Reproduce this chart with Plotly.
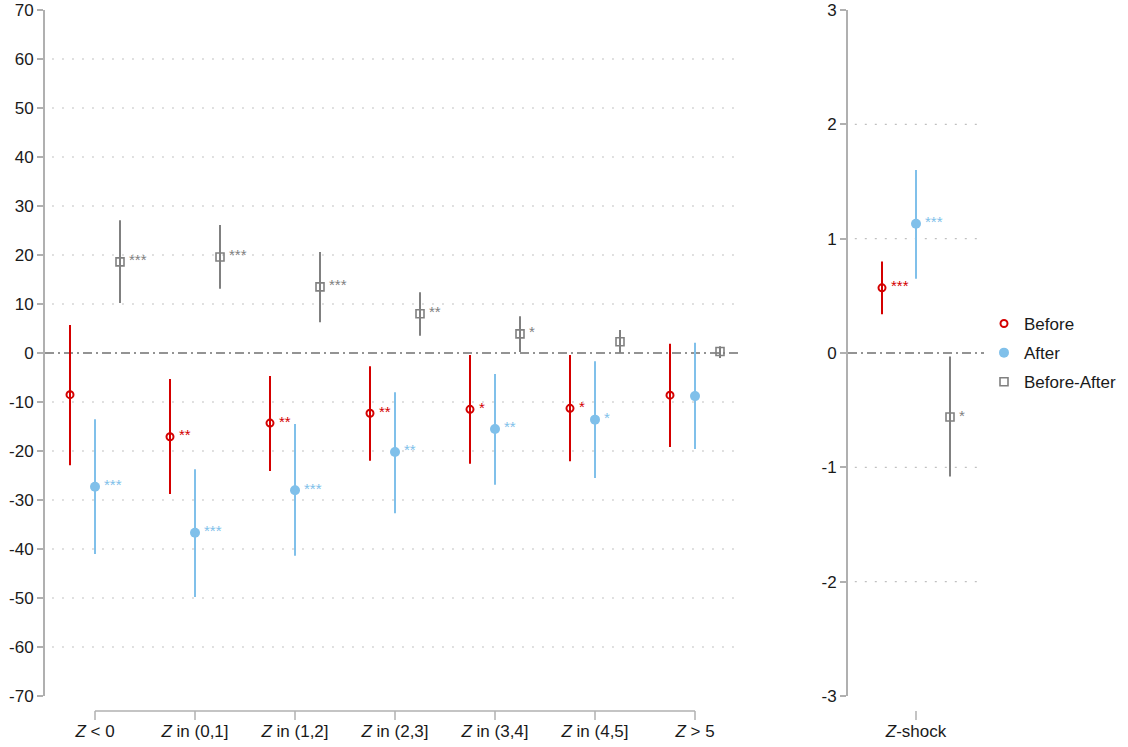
import plotly.graph_objects as go

# ---------------- data ----------------
categories = ["<i>Z</i> < 0", "<i>Z</i> in (0,1]", "<i>Z</i> in (1,2]", "<i>Z</i> in (2,3]",
              "<i>Z</i> in (3,4]", "<i>Z</i> in (4,5]", "<i>Z</i> > 5"]
before_est = [-8.5, -17.1, -14.3, -12.3, -11.5, -11.3, -8.6]
before_lo = [-22.9, -28.8, -24.1, -22.0, -22.6, -22.1, -19.2]
before_hi = [5.7, -5.3, -4.7, -2.7, -0.4, -0.4, 1.9]
before_stars = ["", "**", "**", "**", "*", "*", ""]

after_est = [-27.3, -36.7, -28.0, -20.2, -15.5, -13.6, -8.8]
after_lo = [-41.0, -49.8, -41.4, -32.7, -26.9, -25.5, -19.6]
after_hi = [-13.5, -23.7, -14.5, -8.0, -4.3, -1.7, 2.1]
after_stars = ["***", "***", "***", "**", "**", "*", ""]

diff_est = [18.6, 19.6, 13.5, 8.0, 3.9, 2.3, 0.3]
diff_lo = [10.2, 13.1, 6.3, 3.5, 0.2, 0.0, -1.0]
diff_hi = [27.1, 26.1, 20.6, 12.4, 7.5, 4.7, 1.4]
diff_stars = ["***", "***", "***", "**", "*", "", ""]

shock_label = ["<i>Z</i>-shock"]
shock_est = [0.57, 1.13, -0.56]
shock_lo = [0.34, 0.65, -1.08]
shock_hi = [0.80, 1.60, -0.03]
shock_stars = ["***", "***", "*"]

series_names = ["Before", "After", "Before-After"]
left_ticks = list(range(-70, 71, 10))
left_ticktext = [str(v) for v in left_ticks]
right_ticks = [-3, -2, -1, 0, 1, 2, 3]
right_ticktext = [str(v) for v in right_ticks]

# ---------------- style ----------------
RED = "#d40000"
BLUE = "#80c0ea"
GRAY = "#808080"
colors = [RED, BLUE, GRAY]
symbols = ["circle-open", "circle", "square-open"]
sizes = [7, 10, 8]
mlw = [2, 0, 1.6]
offsets = [-0.25, 0.0, 0.25]
FONT = "Liberation Sans, Arial, Helvetica, sans-serif"
STAR_SIZE = 15

W, H = 1128, 747
def px_x(p): return p / W
def px_y(p): return 1 - p / H

fig = go.Figure()

left_sets = [(before_est, before_lo, before_hi, before_stars),
             (after_est, after_lo, after_hi, after_stars),
             (diff_est, diff_lo, diff_hi, diff_stars)]

for k, (est, lo, hi, st) in enumerate(left_sets):
    xs = [i + 1 + offsets[k] for i in range(len(categories))]
    fig.add_trace(go.Scatter(
        x=xs, y=est, mode="markers", name=series_names[k],
        legendgroup=series_names[k],
        marker=dict(symbol=symbols[k], size=sizes[k], color=colors[k],
                    line=dict(color=colors[k], width=mlw[k] if mlw[k] else 0)),
        error_y=dict(type="data", symmetric=False,
                     array=[h - e for h, e in zip(hi, est)],
                     arrayminus=[e - l for e, l in zip(est, lo)],
                     color=colors[k], thickness=2, width=0),
        xaxis="x", yaxis="y", showlegend=True))
    for x, y, s in zip(xs, est, st):
        if s:
            fig.add_annotation(x=x, y=y, xref="x", yref="y", text=s, showarrow=False,
                               xanchor="left", yanchor="middle", xshift=7, yshift=2,
                               font=dict(family=FONT, size=STAR_SIZE, color=colors[k]))

for k in range(3):
    x = 1 + offsets[k]
    e = shock_est[k]
    fig.add_trace(go.Scatter(
        x=[x], y=[e], mode="markers", name=series_names[k],
        legendgroup=series_names[k],
        marker=dict(symbol=symbols[k], size=sizes[k], color=colors[k],
                    line=dict(color=colors[k], width=mlw[k] if mlw[k] else 0)),
        error_y=dict(type="data", symmetric=False,
                     array=[shock_hi[k] - e], arrayminus=[e - shock_lo[k]],
                     color=colors[k], thickness=2, width=0),
        xaxis="x2", yaxis="y2", showlegend=False))
    fig.add_annotation(x=x, y=e, xref="x2", yref="y2", text=shock_stars[k], showarrow=False,
                       xanchor="left", yanchor="middle", xshift=7, yshift=2,
                       font=dict(family=FONT, size=STAR_SIZE, color=colors[k]))

# gridlines (dotted) and zero lines
GRID_DASH = "2px,8px"
for v in left_ticks:
    if v in (-70, 70, 0):
        continue
    fig.add_shape(type="line", xref="x domain", yref="y", x0=0.01, x1=1, y0=v, y1=v,
                  line=dict(color="#c0c0c0", width=1.2, dash=GRID_DASH), layer="below")
for v in right_ticks:
    if v in (-3, 3, 0):
        continue
    fig.add_shape(type="line", xref="x2 domain", yref="y2", x0=0.05, x1=1, y0=v, y1=v,
                  line=dict(color="#c0c0c0", width=1.2, dash=GRID_DASH), layer="below")
ZDASH = "9px,4px,2px,4px"
fig.add_shape(type="line", xref="x domain", yref="y", x0=0, x1=1, y0=0, y1=0,
              line=dict(color="#707070", width=1.5, dash=ZDASH), layer="below")
fig.add_shape(type="line", xref="x2 domain", yref="y2", x0=0, x1=1, y0=0, y1=0,
              line=dict(color="#707070", width=1.5, dash=ZDASH), layer="below")

# detached x axis lines + ticks
AX = "#b0b0b0"
yl = px_y(711)
yt = px_y(720)
fig.add_shape(type="line", xref="x", yref="paper", x0=1, x1=len(categories), y0=yl, y1=yl,
              line=dict(color=AX, width=1.5))
for i in range(len(categories)):
    fig.add_shape(type="line", xref="x", yref="paper", x0=i + 1, x1=i + 1, y0=yl, y1=yt,
                  line=dict(color=AX, width=1.5))
fig.add_shape(type="line", xref="x2", yref="paper", x0=1, x1=1, y0=yl, y1=yt,
              line=dict(color=AX, width=1.5))

ydom = [px_y(696), px_y(10)]
tickfont = dict(family=FONT, size=17, color="#1a1a1a")

fig.update_layout(
    width=W, height=H, margin=dict(l=0, r=0, t=0, b=0, autoexpand=False),
    plot_bgcolor="white", paper_bgcolor="white",
    font=dict(family=FONT, size=17, color="#1a1a1a"),
    xaxis=dict(domain=[px_x(45), px_x(740)], range=[0.5, 7.45], automargin=False,
               tickmode="array", tickvals=list(range(1, len(categories) + 1)), ticktext=categories,
               ticks="outside", ticklen=20, tickcolor="rgba(0,0,0,0)",
               showline=False, showgrid=False, zeroline=False, tickfont=tickfont),
    yaxis=dict(domain=ydom, range=[-70, 70], tickmode="array", tickvals=left_ticks,
               ticktext=left_ticktext, automargin=False,
               ticks="outside", ticklen=6, tickwidth=1.5, tickcolor=AX,
               showline=True, linecolor=AX, linewidth=2,
               showgrid=False, zeroline=False, tickfont=tickfont),
    xaxis2=dict(domain=[px_x(848), px_x(984)], range=[0.5, 1.5], anchor="y2", automargin=False,
                tickmode="array", tickvals=[1], ticktext=shock_label,
                ticks="outside", ticklen=20, tickcolor="rgba(0,0,0,0)",
                showline=False, showgrid=False, zeroline=False, tickfont=tickfont),
    yaxis2=dict(domain=ydom, range=[-3, 3], anchor="x2", tickmode="array", tickvals=right_ticks,
                ticktext=right_ticktext, automargin=False,
                ticks="outside", ticklen=6, tickwidth=1.5, tickcolor=AX,
                showline=True, linecolor=AX, linewidth=2,
                showgrid=False, zeroline=False, tickfont=tickfont),
    legend=dict(x=px_x(984), y=px_y(353), xanchor="left", yanchor="middle",
                font=dict(family=FONT, size=17, color="#1a1a1a"),
                traceorder="grouped", tracegroupgap=4, bgcolor="rgba(0,0,0,0)"),
    showlegend=True,
)

fig.write_html("out.html")
